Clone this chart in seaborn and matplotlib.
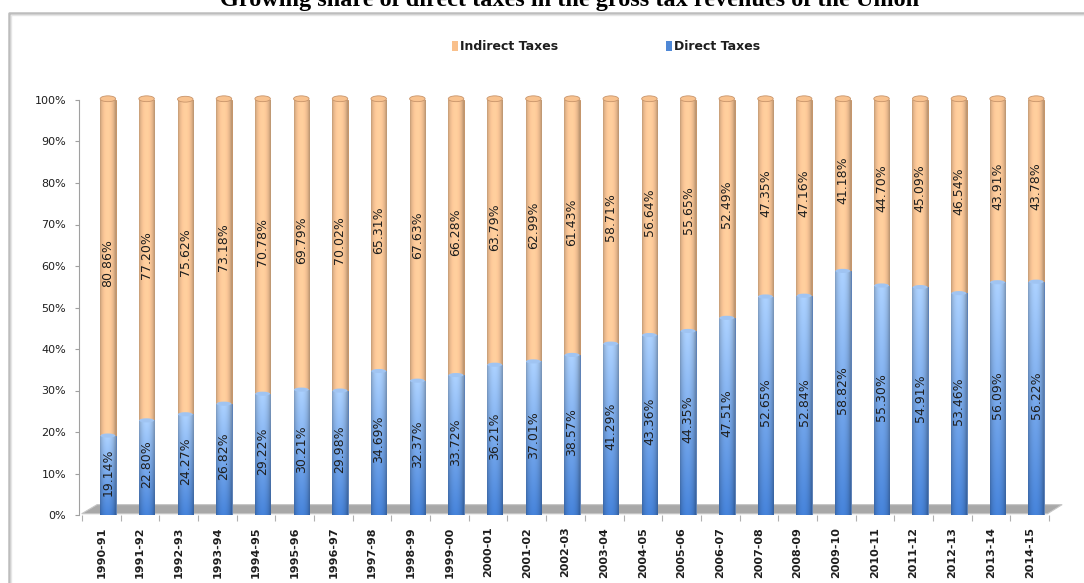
import numpy as np
import pandas as pd
import matplotlib
matplotlib.use("Agg")
import matplotlib.pyplot as plt
import seaborn as sns
from matplotlib.patches import Ellipse, Rectangle, Polygon
from matplotlib.lines import Line2D
from matplotlib.colors import to_rgb

# ---- data -------------------------------------------------------------
years = ["1990-91", "1991-92", "1992-93", "1993-94", "1994-95", "1995-96",
         "1996-97", "1997-98", "1998-99", "1999-00", "2000-01", "2001-02",
         "2002-03", "2003-04", "2004-05", "2005-06", "2006-07", "2007-08",
         "2008-09", "2009-10", "2010-11", "2011-12", "2012-13", "2013-14",
         "2014-15"]
direct = [19.14, 22.80, 24.27, 26.82, 29.22, 30.21, 29.98, 34.69, 32.37,
          33.72, 36.21, 37.01, 38.57, 41.29, 43.36, 44.35, 47.51, 52.65,
          52.84, 58.82, 55.30, 54.91, 53.46, 56.09, 56.22]
indirect = [80.86, 77.20, 75.62, 73.18, 70.78, 69.79, 70.02, 65.31, 67.63,
            66.28, 63.79, 62.99, 61.43, 58.71, 56.64, 55.65, 52.49, 47.35,
            47.16, 41.18, 44.70, 45.09, 46.54, 43.91, 43.78]
y_ticks = [0, 10, 20, 30, 40, 50, 60, 70, 80, 90, 100]
title = "Growing share of direct taxes in the gross tax revenues of the Union"
series_names = ["Indirect Taxes", "Direct Taxes"]

df = pd.DataFrame({"year": years, "direct": direct, "indirect": indirect})
df["total"] = df["direct"] + df["indirect"]

ORANGE = "#FAC693"
BLUE = "#5A90DA"

W, H = 1084, 583
sns.set_theme(style="white")
plt.rcParams["font.family"] = ["DejaVu Sans"]

fig = plt.figure(figsize=(W / 100, H / 100), dpi=100)
ax = fig.add_axes([82 / W, 68 / H, 967 / W, 415 / H])

BAR_W = 0.40
# stacked bars: full stack (indirect on top) first, direct share over it
sns.barplot(data=df, x="year", y="total", color=ORANGE, width=BAR_W,
            saturation=1, errorbar=None, ax=ax, zorder=2,
            edgecolor="#C4946A", linewidth=0.7)
n = len(years)
orange_bars = list(ax.patches[:n])
sns.barplot(data=df, x="year", y="direct", color=BLUE, width=BAR_W,
            saturation=1, errorbar=None, ax=ax, zorder=3,
            edgecolor="#4A7CC0", linewidth=0.5)
blue_bars = list(ax.patches[n:2 * n])


def cylinder_shade(w=48):
    u = np.linspace(0, 1, w)
    s = 0.76 + 0.28 * np.sin(np.pi * np.clip(u * 1.05, 0, 1)) ** 0.6
    return np.clip(s, 0, 1.04)


def paint(patch, img, z):
    b = patch.get_bbox()
    im = ax.imshow(img, extent=[b.x0, b.x1, b.y0, b.y1], origin="lower",
                   aspect="auto", interpolation="bilinear", zorder=z)
    im.set_clip_path(patch)


s = cylinder_shade()
base_o = np.array(to_rgb("#FCC898"))
img_o = np.clip(base_o[None, None, :] * s[None, :, None], 0, 1)
img_o = np.repeat(img_o, 4, axis=0)
for p in orange_bars:
    paint(p, img_o, 2.1)

bot_b = np.array(to_rgb("#447FD3"))
top_b = np.array(to_rgb("#A6CAF6"))
t = np.linspace(0, 1, 80)[:, None]
col_b = bot_b[None, :] * (1 - t) + top_b[None, :] * t
img_b = np.clip(col_b[:, None, :] * s[None, :, None], 0, 1)
for p in blue_bars:
    paint(p, img_b, 3.1)

# cylinder caps
for k in range(n):
    ax.add_patch(Ellipse((k, df["total"][k] + 0.3), BAR_W, 1.4,
                         facecolor="#F8C28F", edgecolor="#C8946A", lw=0.6,
                         zorder=4, clip_on=False))
    ax.add_patch(Ellipse((k, df["direct"][k]), BAR_W * 0.96, 1.0,
                         facecolor="#A0C4F2", edgecolor="none",
                         zorder=3.5, clip_on=False))

# value labels inside each segment
for k in range(n):
    d, i = df["direct"][k], df["indirect"][k]
    ax.text(k, d / 2 + 0.8, f"{d:.2f}%", rotation=90, ha="center",
            va="center", fontsize=9, color="#1E1E1E", zorder=6)
    ax.text(k, d + i / 2 + 1.2, f"{i:.2f}%", rotation=90, ha="center",
            va="center", fontsize=9, color="#1E1E1E", zorder=6)

# grey floor under the bars
floor = Polygon([(-0.678, 0.3), (24.29, 0.3), (24.67, 2.5), (-0.28, 2.5)],
                closed=True, facecolor="#A8A8A8", edgecolor="#C6C6C6",
                lw=0.8, zorder=1, clip_on=False)
ax.add_patch(floor)

# axes styling
ax.set_xlim(-0.67, n - 0.67)
ax.set_ylim(0, 100)
ax.set_xlabel("")
ax.set_ylabel("")
ax.set_xticks(np.arange(n) - 0.17, years, rotation=90)
ax.set_xticks(np.arange(n + 1) - 0.67, minor=True)
ax.set_yticks(y_ticks, [f"{v}%" for v in y_ticks])
ax.tick_params(axis="x", which="major", length=0, pad=8.5, labelsize=8,
               labelcolor="#1E1E1E")
ax.tick_params(axis="x", which="minor", length=4, width=0.8,
               color="#B0B0B0", bottom=True)
ax.tick_params(axis="y", length=3, width=0.8, color="#A0A0A0", pad=6.5,
               labelsize=8, labelcolor="#1E1E1E", left=True)
for lab in ax.get_xticklabels() + ax.get_yticklabels():
    lab.set_fontweight("bold")
for side in ["top", "right", "bottom"]:
    ax.spines[side].set_visible(False)
ax.spines["left"].set_position(("outward", 2))
ax.spines["left"].set_color("#A0A0A0")
ax.spines["left"].set_linewidth(0.8)
ax.grid(False)
ax.set_facecolor("none")

# chart frame
fig.add_artist(Line2D([9 / W, 9 / W, 1], [0, 1 - 13 / H, 1 - 13 / H],
                      transform=fig.transFigure, color="#BDBDBD", lw=1.8))
fig.add_artist(Line2D([11 / W, 11 / W, 1], [0, 1 - 15 / H, 1 - 15 / H],
                      transform=fig.transFigure, color="#E6E6E6", lw=1.0))

# title (runs off the top edge)
fig.text(570 / W, 1 - 6 / H, title, ha="center", va="baseline",
         fontsize=17.5, fontweight="bold",
         family=["Liberation Serif", "DejaVu Serif"], color="black")

# legend
for x0, name, c in [(452, series_names[0], "#F9C08C"),
                    (666, series_names[1], "#4F88D6")]:
    fig.add_artist(Rectangle((x0 / W, 1 - 51 / H), 6 / W, 10 / H,
                             transform=fig.transFigure, facecolor=c,
                             edgecolor="none"))
    fig.text((x0 + 8) / W, 1 - 46 / H, name, ha="left", va="center",
             fontsize=9, fontweight="bold", color="#1E1E1E")

fig.savefig("out.png", dpi=100, facecolor="white")
